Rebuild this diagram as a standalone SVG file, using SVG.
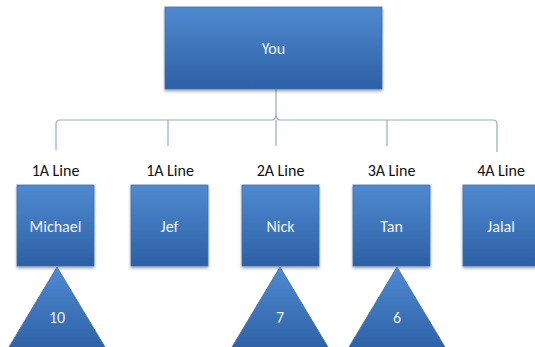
<svg xmlns="http://www.w3.org/2000/svg" width="535" height="347" viewBox="0 0 535 347">
<defs>
<linearGradient id="g" x1="0" y1="0" x2="0" y2="1">
<stop offset="0" stop-color="#4f8ad0"/>
<stop offset="1" stop-color="#2c60a5"/>
</linearGradient>
<filter id="sh" x="-10%" y="-10%" width="125%" height="130%">
<feDropShadow dx="0" dy="2" stdDeviation="1.5" flood-color="#000" flood-opacity="0.35"/>
</filter>
</defs>
<style>
.box{fill:url(#g);stroke:#3b6fb0;stroke-width:0.8;filter:url(#sh)}
.tri{fill:url(#g);stroke:#3b6fb0;stroke-width:0.8}
.in{font-family:Carlito,"Liberation Sans Narrow","Liberation Sans",sans-serif;font-size:16px;fill:#eef3fa;text-anchor:middle}
.lbl{font-family:Carlito,"Liberation Sans Narrow","Liberation Sans",sans-serif;font-size:16px;fill:#111;text-anchor:middle}
.con{fill:none;stroke:#8fabd0;stroke-width:1.2}
</style>
<rect width="535" height="347" fill="#fff"/>
<g id="connectors">
<path class="con" d="M276,89 L276,114"/>
<path class="con" d="M56,150 L56,124 Q56,120 60,120 L272,120 Q276,120 276,114 Q276,120 280,120 L493,120 Q497,120 497,124 L497,152"/>
<path class="con" d="M168,120 L168,146 M276,120 L276,146 M387,120 L387,146"/>
</g>
<g id="you">
<rect class="box" x="165" y="7" width="217" height="82"/>
<text class="in" x="273.5" y="54">You</text>
</g>
<g id="michael">
<text class="lbl" x="55.5" y="176">1A Line</text>
<rect class="box" x="17" y="185" width="77" height="81"/>
<text class="in" x="55.5" y="232">Michael</text>
</g>
<g id="jef">
<text class="lbl" x="170" y="176">1A Line</text>
<rect class="box" x="131" y="185" width="77" height="81"/>
<text class="in" x="169.5" y="232">Jef</text>
</g>
<g id="nick">
<text class="lbl" x="280.5" y="176">2A Line</text>
<rect class="box" x="242" y="185" width="77" height="81"/>
<text class="in" x="280.5" y="232">Nick</text>
</g>
<g id="tan">
<text class="lbl" x="391.5" y="176">3A Line</text>
<rect class="box" x="353" y="185" width="77" height="81"/>
<text class="in" x="391.5" y="232">Tan</text>
</g>
<g id="jalal">
<text class="lbl" x="501" y="176">4A Line</text>
<rect class="box" x="463" y="185" width="77" height="81"/>
<text class="in" x="501" y="232">Jalal</text>
</g>
<g id="tri-michael">
<polygon class="tri" points="57,267 108,352 6,352"/>
<text class="in" x="57" y="323">10</text>
</g>
<g id="tri-nick">
<polygon class="tri" points="280,267 331,352 229,352"/>
<text class="in" x="280" y="323">7</text>
</g>
<g id="tri-tan">
<polygon class="tri" points="397,267 448,352 346,352"/>
<text class="in" x="397" y="323">6</text>
</g>
</svg>
